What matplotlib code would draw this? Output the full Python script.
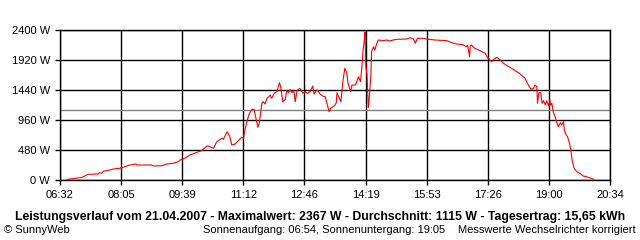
import matplotlib
matplotlib.use("Agg")
import matplotlib.pyplot as plt

# Leistungsverlauf 21.04.2007 (Minuten seit Mitternacht, Watt)
minutes = [404, 411, 424, 430, 435, 451, 452, 456, 458, 466, 474, 483, 489, 497, 508, 510,
           532, 535, 548, 555, 565, 573, 576, 583, 591, 604, 609, 617, 619, 627, 632, 640,
           642, 648, 652, 655, 660, 667, 670, 673, 674, 678, 682, 686, 689, 692, 695, 697,
           701, 703, 706, 709, 714, 716, 720, 724, 728, 730, 733, 737, 739, 742, 744, 747,
           750, 752, 755, 759, 764, 767, 771, 775, 779, 781, 785, 787, 790, 794, 798, 800,
           804, 806, 810, 813, 815, 816, 818, 822, 825, 828, 831, 833, 837, 839, 844, 846,
           849, 852, 854, 856, 858, 859, 860, 862, 864, 866, 868, 869, 872, 874, 877, 879,
           887, 892, 897, 902, 908, 923, 928, 933, 936, 939, 948, 953, 966, 984, 992, 999,
           1009, 1014, 1016, 1019, 1020, 1022, 1027, 1035, 1043, 1045, 1050, 1053, 1056, 1061, 1066, 1071,
           1077, 1081, 1089, 1096, 1104, 1109, 1113, 1117, 1119, 1122, 1123, 1125, 1128, 1130, 1132, 1135,
           1137, 1140, 1142, 1143, 1145, 1147, 1150, 1152, 1155, 1158, 1160, 1163, 1164, 1167, 1169, 1172,
           1174, 1176, 1179, 1183, 1188, 1193, 1201, 1209]
watts = [11, 21, 37, 64, 91, 96, 117, 107, 139, 155, 176, 187, 203, 235, 256, 240,
         240, 224, 229, 256, 267, 293, 320, 347, 400, 453, 469, 544, 544, 507, 613, 667,
         651, 773, 693, 560, 576, 651, 683, 667, 747, 933, 1067, 1131, 1131, 987, 843, 907,
         1227, 1253, 1216, 1307, 1360, 1307, 1387, 1413, 1557, 1483, 1253, 1291, 1429, 1397, 1451, 1397,
         1429, 1253, 1429, 1467, 1387, 1413, 1387, 1413, 1504, 1376, 1440, 1429, 1376, 1344, 1333, 1253,
         1093, 1147, 1173, 1200, 1237, 1397, 1344, 1253, 1573, 1787, 1712, 1547, 1413, 1520, 1520, 1563,
         1653, 1573, 1787, 2080, 2240, 2367, 1840, 1680, 1157, 1387, 1680, 2053, 2133, 2080, 2187, 2240,
         2229, 2240, 2224, 2240, 2251, 2256, 2277, 2256, 2187, 2267, 2267, 2256, 2240, 2229, 2197, 2176,
         2165, 2133, 2160, 1973, 2144, 2160, 2107, 2069, 2027, 1984, 1920, 1893, 1931, 1963, 1920, 1867,
         1824, 1803, 1749, 1701, 1627, 1520, 1451, 1467, 1520, 1493, 1227, 1397, 1397, 1227, 1269, 1200,
         1269, 1184, 1280, 1200, 1227, 1093, 1013, 933, 853, 917, 880, 933, 800, 720, 693, 587,
         480, 320, 187, 133, 107, 64, 43, 11]

average = 1115
x_labels = ["06:32", "08:05", "09:39", "11:12", "12:46", "14:19", "15:53", "17:26", "19:00", "20:34"]
y_values = [0, 480, 960, 1440, 1920, 2400]

plt.rcParams['font.family'] = ['Liberation Sans', 'DejaVu Sans']

fig = plt.figure(figsize=(6.4, 2.4), dpi=100)
ax = fig.add_axes([60/640, 60/240, 550/640, 150/240])

start, end = 392, 1234
step = (end - start) / 9
ax.set_xlim(start, end)
ax.set_ylim(0, 2400)
ax.set_xticks([start + i*step for i in range(10)])
ax.set_xticklabels(x_labels)
ax.set_yticks(y_values)
ax.set_yticklabels([f"{v} W" for v in y_values])
ax.grid(True, color="black", linewidth=1.0)
ax.set_axisbelow(True)
ax.tick_params(direction="out", length=3.6, width=1.0, pad=3.5, labelsize=8, colors="black")
for s in ax.spines.values():
    s.set_linewidth(1.0)

ax.axhline(average, color="#808080", linewidth=1.0, zorder=2)
ax.plot(minutes, watts, color="red", linewidth=0.8, zorder=3)

fig.text(0.5, 23/240, "Leistungsverlauf vom 21.04.2007 - Maximalwert: 2367 W - Durchschnitt: 1115 W - Tagesertrag: 15,65 kWh",
         ha="center", va="center", fontsize=8.8, fontweight="bold")
fig.text(4/640, 10/240, "\u00a9 SunnyWeb", ha="left", va="center", fontsize=8)
fig.text(203/640, 10/240, "Sonnenaufgang: 06:54, Sonnenuntergang: 19:05", ha="left", va="center", fontsize=8)
fig.text(636/640, 10/240, "Messwerte Wechselrichter korrigiert", ha="right", va="center", fontsize=8)

fig.savefig("out.png", dpi=100, facecolor="white")
